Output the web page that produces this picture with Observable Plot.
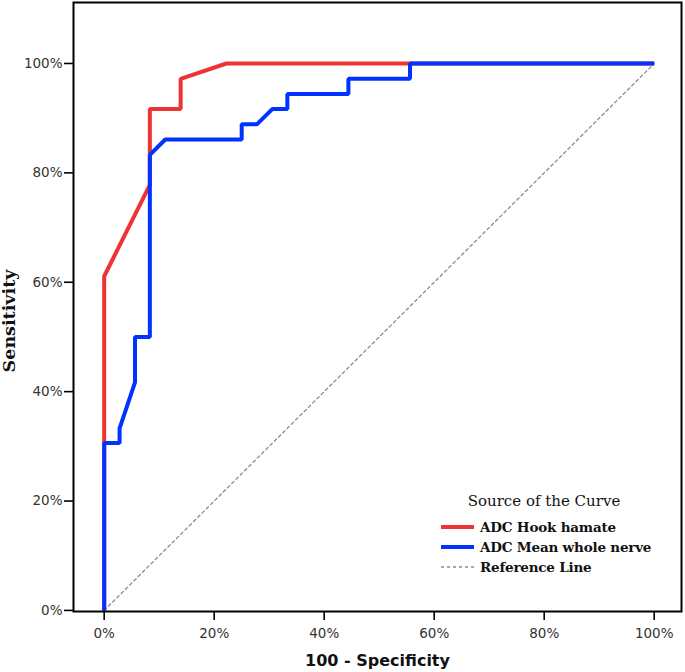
<!DOCTYPE html>
<html>
<head>
<meta charset="utf-8">
<script src="https://cdn.jsdelivr.net/npm/d3@7"></script>
<script src="https://cdn.jsdelivr.net/npm/@observablehq/plot@0.6"></script>
<style>
  body { margin: 0; background: #fff; }
  #wrap { position: relative; width: 685px; height: 672px; }
  #legend { position: absolute; left: 441px; top: 492px; width: 240px; font-family: "DejaVu Serif", serif; color: #111; }
  #legend .title { font-size: 15px; text-align: center; width: 206px; margin-bottom: 7px; }
  #legend .item { display: flex; align-items: center; height: 20px; }
  #legend .item span { font-size: 13.5px; font-weight: bold; margin-left: 6px; letter-spacing: -0.2px; }
</style>
</head>
<body>
<div id="wrap"></div>
<script>
// ---- data ----
const seriesNames = ["ADC Hook hamate", "ADC Mean whole nerve", "Reference Line"];
const seriesColors = ["#ee3333", "#0033ff", "#8c8c8c"];
const legendTitle = "Source of the Curve";

// ADC Hook hamate ROC curve (1 - specificity, sensitivity)
const hookX = [0.000, 0.000, 0.083, 0.083, 0.139, 0.139, 0.222, 1.000];
const hookY = [0.000, 0.611, 0.778, 0.917, 0.917, 0.972, 1.000, 1.000];

// ADC Mean whole nerve ROC curve
const nerveX = [0.000, 0.000, 0.028, 0.028, 0.056, 0.056, 0.083, 0.083, 0.111, 0.250, 0.250, 0.278, 0.306, 0.333, 0.333, 0.444, 0.444, 0.556, 0.556, 1.000];
const nerveY = [0.000, 0.306, 0.306, 0.333, 0.417, 0.500, 0.500, 0.833, 0.861, 0.861, 0.889, 0.889, 0.917, 0.917, 0.944, 0.944, 0.972, 0.972, 1.000, 1.000];

// Reference line
const refX = [0, 1];
const refY = [0, 1];

const xTicks = [0, 0.2, 0.4, 0.6, 0.8, 1.0];
const yTicks = [0, 0.2, 0.4, 0.6, 0.8, 1.0];
const xLabel = "100 - Specificity";
const yLabel = "Sensitivity";

const toRows = (xs, ys) => xs.map((x, i) => ({x, y: ys[i]}));
const pct = d => Math.round(d * 100) + "%";

const lineStyle = {x: "x", y: "y", strokeWidth: 4, strokeLinejoin: "miter", strokeLinecap: "butt", curve: "linear"};

const chart = Plot.plot({
  width: 685,
  height: 672,
  marginLeft: 73,
  marginRight: 4,
  marginTop: 2,
  marginBottom: 61,
  style: {fontFamily: "'DejaVu Sans', sans-serif", fontSize: "13.5px", color: "#222", background: "#fff"},
  x: {domain: [-0.0558, 1.0496]},
  y: {domain: [-0.002, 1.1115]},
  marks: [
    Plot.line(toRows(refX, refY), {x: "x", y: "y", stroke: seriesColors[2], strokeWidth: 1.3, strokeDasharray: "3,3"}),
    Plot.line(toRows(hookX, hookY), {...lineStyle, stroke: seriesColors[0]}),
    Plot.line(toRows(nerveX, nerveY), {...lineStyle, stroke: seriesColors[1]}),
    Plot.frame({stroke: "#000", strokeWidth: 2}),
    Plot.axisX({ticks: xTicks, tickFormat: pct, tickSize: 9, tickPadding: 8, stroke: "#000", strokeWidth: 1.6, fill: "#333", label: null}),
    Plot.axisY({ticks: yTicks, tickFormat: pct, tickSize: 9, tickPadding: 2, stroke: "#000", strokeWidth: 1.6, fill: "#333", label: null}),
    Plot.text([xLabel], {frameAnchor: "bottom", dy: 49, lineAnchor: "middle", textAnchor: "middle", fontFamily: "'DejaVu Sans', sans-serif", fontWeight: "bold", fontSize: 16, fill: "#111"}),
    Plot.text([yLabel], {frameAnchor: "left", dx: -64, dy: 14, rotate: -90, lineAnchor: "middle", textAnchor: "middle", fontFamily: "'DejaVu Serif', serif", fontWeight: "bold", fontSize: 17.5, fill: "#111"})
  ]
});

const wrap = document.getElementById("wrap");
wrap.appendChild(chart);

// legend (inside the plot area, lower right)
const legend = document.createElement("div");
legend.id = "legend";
const title = document.createElement("div");
title.className = "title";
title.textContent = legendTitle;
legend.appendChild(title);
seriesNames.forEach((name, i) => {
  const item = document.createElement("div");
  item.className = "item";
  const dash = i === 2 ? 'stroke-dasharray="3,3" stroke-width="1.3"' : 'stroke-width="4"';
  item.innerHTML = `<svg width="33" height="10"><line x1="0" x2="33" y1="5" y2="5" stroke="${seriesColors[i]}" ${dash}/></svg><span>${name}</span>`;
  legend.appendChild(item);
});
wrap.appendChild(legend);
</script>
</body>
</html>
